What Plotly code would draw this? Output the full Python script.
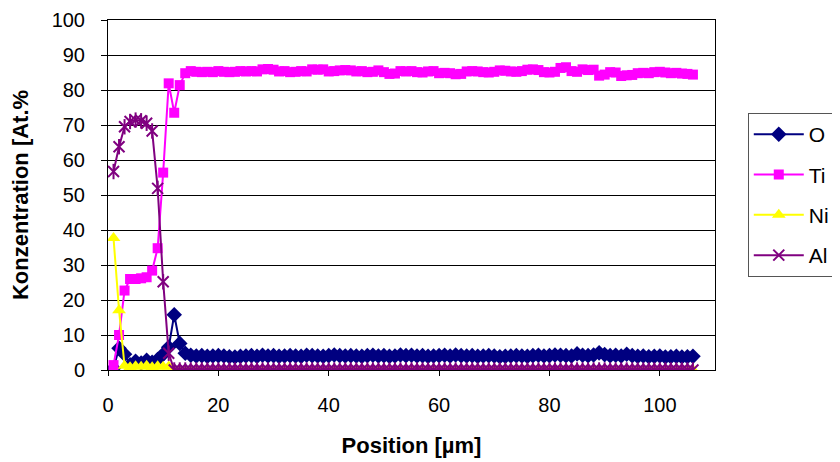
import plotly.graph_objects as go

position = list(range(1, 107))

o_vals = [0.5, 6.2, 4.5, 1.5, 2.5, 2.0, 2.8, 2.2, 3.0, 4.5, 6.5, 15.8, 7.6, 4.8,
          4.2, 4.0, 4.1, 3.9, 4.0, 4.1, 4.0, 3.8, 3.7, 3.9,
          4.0, 4.1, 3.9, 4.2, 4.0, 4.1, 3.9, 4.0, 4.1, 4.0,
          3.9, 4.2, 4.1, 4.0, 3.9, 4.1, 4.3, 4.1, 4.0, 4.1,
          4.0, 3.9, 4.1, 4.2, 4.0, 4.1, 3.9, 4.0, 4.3, 4.1,
          4.2, 4.0, 4.1, 3.9, 4.0, 4.1, 4.2, 4.0, 4.3, 4.1,
          4.0, 4.1, 3.9, 4.0, 4.1, 4.0, 3.8, 3.9, 4.0, 4.1,
          4.0, 3.9, 4.1, 4.2, 4.0, 4.1, 4.3, 4.2, 4.1, 4.0,
          4.6, 4.2, 4.1, 4.3, 4.9, 4.4, 4.1, 4.2, 4.0, 4.5,
          4.1, 3.9, 4.0, 3.8, 3.9, 4.0, 3.7, 3.8, 3.9, 3.7,
          3.8, 3.9]

ti_vals = [1.4, 10.0, 22.7, 26.0, 26.0, 26.2, 26.5, 28.4, 34.8, 56.4, 81.9, 73.5, 81.4, 84.8,
           85.4, 85.2, 85.1, 85.2, 85.1, 85.4, 85.2, 85.1, 85.2, 85.4,
           85.3, 85.4, 85.3, 85.9, 86.0, 85.8, 85.3, 85.4, 85.1, 85.2,
           85.4, 85.3, 85.9, 85.8, 85.9, 85.3, 85.4, 85.6, 85.7, 85.6,
           85.3, 85.4, 85.1, 85.2, 85.6, 85.1, 84.6, 84.7, 85.4, 85.3,
           85.4, 85.1, 85.0, 85.3, 85.4,
           84.8, 84.9, 84.8, 84.5, 84.6, 85.3, 85.4, 85.3, 85.1, 85.0,
           85.2, 85.6, 85.5, 85.3, 85.2, 85.4, 85.8, 85.9, 85.7, 85.1,
           85.0, 85.2, 86.3, 86.5, 85.4, 85.2, 85.9, 85.7, 85.8, 84.1,
           84.4, 85.1, 85.0, 84.0, 84.2, 84.3, 84.8, 84.9, 84.8, 85.1,
           85.2, 85.0, 84.8, 84.9, 84.7, 84.6, 84.4]

ni_vals = [37.7, 17.1, 1.2, 0.8, 1.1, 0.9, 1.2, 0.8, 1.1, 0.9, 1.0] + [0.0] * 95

al_vals = [56.7, 63.8, 69.5, 71.0, 71.4, 71.2, 70.5, 68.3, 51.9, 25.2, 4.8] + [0.0] * 95

FONT = "Liberation Sans, Arial, sans-serif"

fig = go.Figure()

fig.add_trace(go.Scatter(
    x=position, y=o_vals, name="O", legendgroup="O", mode="lines+markers",
    line=dict(color="#000080", width=2),
    marker=dict(symbol="diamond", size=12, color="#000080")))

fig.add_trace(go.Scatter(
    x=position, y=ti_vals, name="Ti", legendgroup="Ti", mode="lines+markers",
    line=dict(color="#FF00FF", width=2),
    marker=dict(symbol="square", size=10, color="#FF00FF")))

fig.add_trace(go.Scatter(
    x=position, y=ni_vals, name="Ni", legendgroup="Ni", mode="lines+markers",
    line=dict(color="#FFFF00", width=2),
    marker=dict(symbol="triangle-up", size=12, color="#FFFF00")))

fig.add_trace(go.Scatter(
    x=position, y=al_vals, name="Al", legendgroup="Al", mode="lines+markers",
    line=dict(color="#800080", width=2),
    marker=dict(symbol="x-thin-open", size=11, color="#800080",
                line=dict(color="#800080", width=2))))

fig.add_trace(go.Scatter(
    x=position, y=al_vals, name="Al", legendgroup="Al", mode="markers",
    showlegend=False, hoverinfo="skip",
    marker=dict(symbol="line-ns-open", size=11, color="#800080",
                line=dict(color="#800080", width=2))))

fig.update_layout(
    width=840, height=462,
    margin=dict(l=100, r=133, t=12, b=100, autoexpand=False),
    paper_bgcolor="white", plot_bgcolor="white",
    font=dict(family=FONT, size=20, color="black"),
    legend=dict(
        x=1.054, y=0.734, xanchor="left", yanchor="top",
        bordercolor="#555555", borderwidth=1, bgcolor="white",
        font=dict(family=FONT, size=21, color="black"),
        tracegroupgap=10, itemwidth=50, traceorder="grouped",
    ),
    xaxis=dict(
        range=[0, 110], tickvals=[0, 20, 40, 60, 80, 100],
        showgrid=False, zeroline=False, automargin=False,
        showline=True, linecolor="black", linewidth=1, mirror=True,
        ticks="outside", ticklen=5, tickcolor="black",
        ticklabelstandoff=12,
        tickfont=dict(family=FONT, size=20),
        title=dict(text="<b>Position [µm]</b>", font=dict(family=FONT, size=22), standoff=22),
    ),
    yaxis=dict(
        range=[0, 100], dtick=10,
        showgrid=True, gridcolor="black", gridwidth=1, zeroline=False, automargin=False,
        showline=True, linecolor="black", linewidth=1, mirror=True,
        ticks="outside", ticklen=6, tickcolor="black",
        ticklabelstandoff=12,
        tickfont=dict(family=FONT, size=20),
        title=dict(text="<b>Konzentration [At.%</b>", font=dict(family=FONT, size=22), standoff=18),
    ),
)

fig.write_html("out.html")
